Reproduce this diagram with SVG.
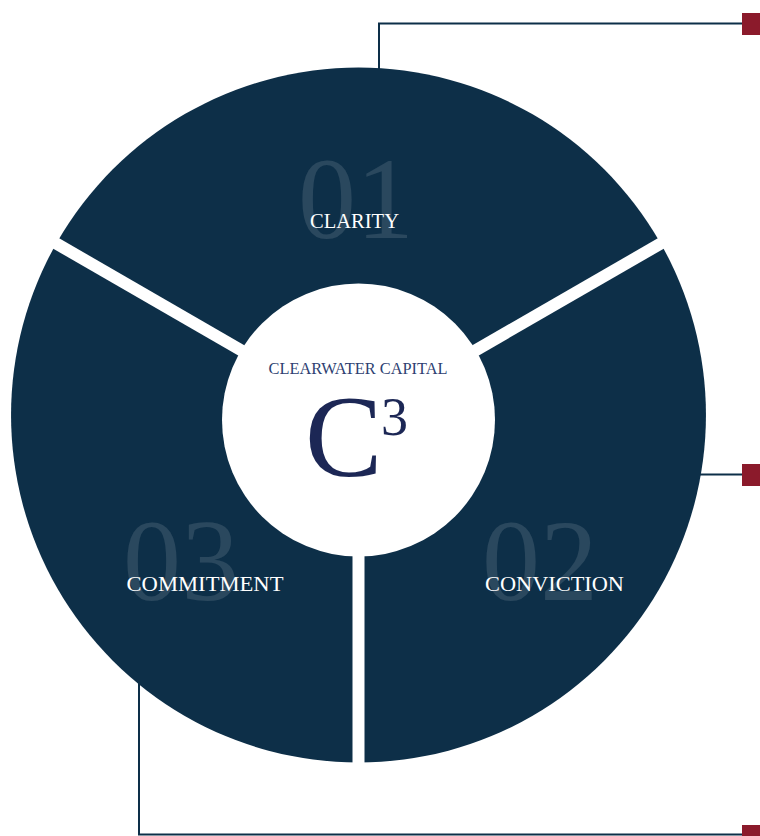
<svg xmlns="http://www.w3.org/2000/svg" width="760" height="836" viewBox="0 0 760 836">
<style>
.sector{fill:#0d2f48}
.sep{stroke:#ffffff;stroke-width:12;fill:none}
.num{font-family:"Liberation Serif",serif;font-size:116px;fill:#ffffff;fill-opacity:0.12;text-anchor:middle}
.lbl{font-family:"Liberation Serif",serif;font-size:21px;fill:#ffffff;text-anchor:middle}
.conn{stroke:#0d2f48;stroke-width:2;fill:none}
.end{fill:#8b1a2b}
</style>
<rect width="760" height="836" fill="#ffffff"/>
<g id="connectors">
<path class="conn" d="M379,70 V23.5 H743"/>
<rect class="end" x="742" y="13" width="22" height="22"/>
<path class="conn" d="M699,474.5 H743"/>
<rect class="end" x="742" y="464" width="22" height="22"/>
<path class="conn" d="M139,683 V834.5 H743"/>
<rect class="end" x="742" y="825" width="22" height="22"/>
</g>
<g id="clarity">
<path class="sector" d="M358.5,415 L57.6,241.25 A347.5,347.5 0 0 1 659.4,241.25 Z"/>
<text class="num" x="356" y="238">01</text>
<text class="lbl" x="354.5" y="227.5" textLength="89" lengthAdjust="spacingAndGlyphs">CLARITY</text>
</g>
<g id="conviction">
<path class="sector" d="M358.5,415 L659.4,241.25 A347.5,347.5 0 0 1 358.5,762.5 Z"/>
<text class="num" x="540" y="600">02</text>
<text class="lbl" x="554.5" y="590.5" textLength="139" lengthAdjust="spacingAndGlyphs">CONVICTION</text>
</g>
<g id="commitment">
<path class="sector" d="M358.5,415 L358.5,762.5 A347.5,347.5 0 0 1 57.6,241.25 Z"/>
<text class="num" x="181" y="600">03</text>
<text class="lbl" x="205" y="590.5" textLength="157" lengthAdjust="spacingAndGlyphs">COMMITMENT</text>
</g>
<g id="separators">
<line class="sep" x1="358.5" y1="418" x2="358.5" y2="770"/>
<line class="sep" x1="358.5" y1="418" x2="46.7" y2="238"/>
<line class="sep" x1="358.5" y1="418" x2="670.3" y2="238"/>
</g>
<g id="center">
<circle cx="358.5" cy="420" r="136.5" fill="#ffffff"/>
<text x="358" y="374" font-family="Liberation Serif, serif" font-size="16" fill="#2e3f72" text-anchor="middle" textLength="179" lengthAdjust="spacingAndGlyphs">CLEARWATER CAPITAL</text>
<text x="305" y="476" font-family="Liberation Serif, serif" font-size="116" fill="#1c2755">C</text>
<text x="381" y="435" font-family="Liberation Serif, serif" font-size="54" fill="#1c2755">3</text>
</g>
</svg>
